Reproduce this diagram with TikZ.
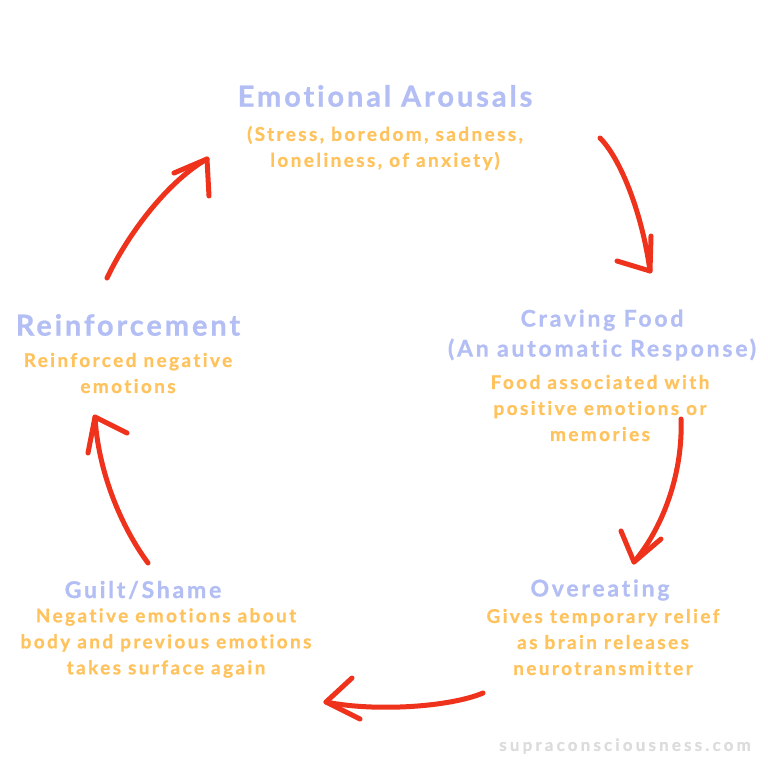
\documentclass[tikz,border=0pt]{standalone}
\usepackage{fontspec}
\setmainfont{Lato}
\newfontfamily\bigfont{Lato Bold}[LetterSpace=10,Ligatures={NoCommon},FakeBold=0.8]
\newfontfamily\smallfont{Lato Bold}[LetterSpace=12,Ligatures={NoCommon},FakeBold=0.8]
\newfontfamily\bodyfont{Lato Bold}[LetterSpace=12.5,Ligatures={NoCommon},FakeBold=0.8]
\newfontfamily\wmfont{Lato Bold}[LetterSpace=18.5,Ligatures={NoCommon},FakeBold=0.6]
\definecolor{tblue}{HTML}{B3BEF4}
\definecolor{torange}{HTML}{FFC35E}
\definecolor{ared}{HTML}{EF321B}
\definecolor{wgray}{HTML}{DCDCDC}
\begin{document}
\begin{tikzpicture}[x=1pt,y=-1pt,
  bigtitle/.style={text=tblue,font=\bigfont\fontsize{29}{30}\selectfont,align=center,inner sep=0pt},
  smalltitle/.style={text=tblue,font=\smallfont\fontsize{23}{30}\selectfont,align=center,inner sep=0pt},
  body/.style={text=torange,font=\bodyfont\fontsize{19}{26}\selectfont,align=center,inner sep=0pt},
  cyc/.style={draw=ared,line width=5pt,line cap=round,line join=round}]
\useasboundingbox[fill=white] (0,0) rectangle (768,768);
% texts
\node[bigtitle] (ea) at (385,96) {Emotional Arousals};
\node[body] (eas) at (385,148) {(Stress, boredom, sadness,\\loneliness, of anxiety)};
\node[bigtitle] (re) at (128,325) {Reinforcement};
\node[body] (res) at (128,373) {Reinforced negative\\emotions};
\node[smalltitle] (cf) at (602,335) {Craving Food\\(An automatic Response)};
\node[body] (cfs) at (600,408) {Food associated with\\positive emotions or\\memories};
\node[smalltitle] (ov) at (600,590) {Overeating};
\node[body] (ovs) at (603,642) {Gives temporary relief\\as brain releases\\neurotransmitter};
\node[smalltitle] (gs) at (143,590) {Guilt/Shame};
\node[body] (gss) at (166,643) {Negative emotions about\\body and previous emotions\\takes surface again};
\node[text=wgray,font=\wmfont\fontsize{17}{18}\selectfont,inner sep=0pt] (wm) at (625,746) {supraconsciousness.com};
% arrows
\coordinate (a1s) at (600,138); \coordinate (a1t) at (650,271);
\coordinate (a2s) at (681,419); \coordinate (a2t) at (634,562);
\coordinate (a3s) at (483,693); \coordinate (a3t) at (326,702);
\coordinate (a4s) at (148,563); \coordinate (a4t) at (95,417);
\coordinate (a5s) at (107,278); \coordinate (a5t) at (207,159);
\draw[cyc] (a1s) .. controls (620,158) and (642,212) .. (a1t);
\draw[cyc] (651,236) -- (a1t) -- (617,261);
\draw[cyc] (a2s) .. controls (683,470) and (665,525) .. (a2t);
\draw[cyc] (621,531) -- (a2t) -- (661,539);
\draw[cyc] (a3s) .. controls (450,707) and (375,712) .. (a3t);
\draw[cyc] (352,678) -- (a3t) -- (360,719);
\draw[cyc] (a4s) .. controls (120,525) and (98,470) .. (a4t);
\draw[cyc] (88,453) -- (a4t) -- (127,433);
\draw[cyc] (a5s) .. controls (130,230) and (170,180) .. (a5t);
\draw[cyc] (174,173) -- (a5t) -- (209,196);
\end{tikzpicture}
\end{document}
